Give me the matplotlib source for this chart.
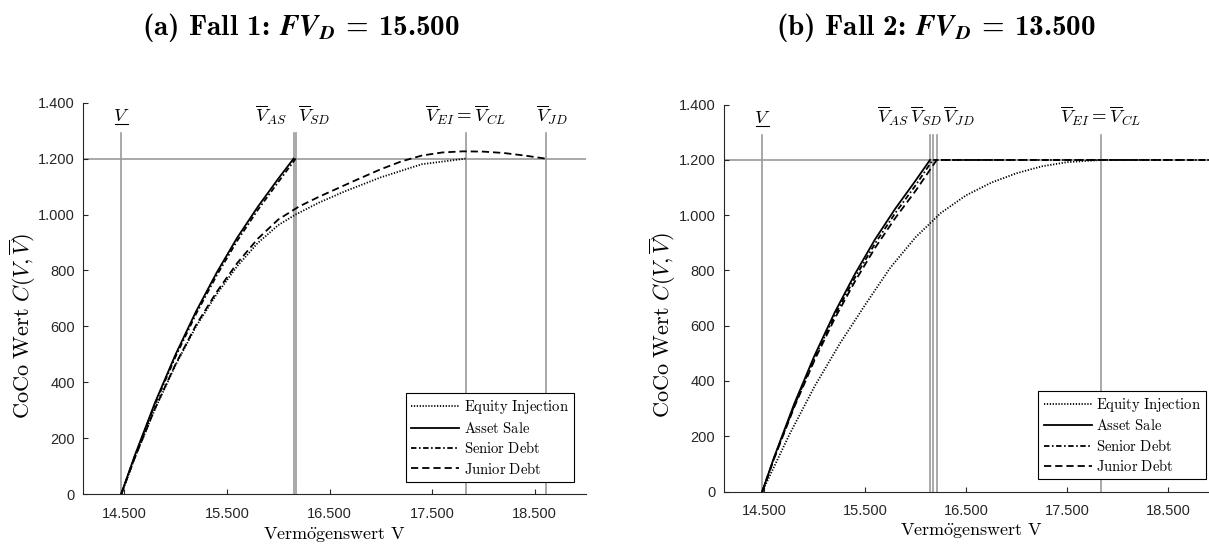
#!/usr/bin/env python3
from __future__ import annotations

import matplotlib
matplotlib.use("Agg")
import matplotlib.pyplot as plt
from matplotlib import transforms
from matplotlib.mathtext import MathTextParser


plt.rcParams["font.family"] = ["Liberation Sans", "DejaVu Sans"]
plt.rcParams["mathtext.fontset"] = "cm"

# ---- Fall 1: FV_D = 15.500 ----
V_LOW_1 = 14470
BARRIERS_1 = {"AS": 16150, "SD": 16170, "EI": 17828, "JD": 18607}

AS1_X = [14470, 14600, 14800, 15000, 15200, 15400, 15600, 15800, 16000, 16150]
AS1_Y = [0, 136, 328, 500, 654, 792, 917, 1027, 1128, 1200]
SD1_X = [14470, 14600, 14800, 15000, 15200, 15400, 15600, 15800, 16000, 16170]
SD1_Y = [0, 133, 322, 492, 645, 782, 906, 1016, 1116, 1200]
EI1_X = [14470, 14600, 14800, 15000, 15200, 15400, 15600, 15800, 16000, 16170,
         16400, 16650, 17000, 17400, 17828]
EI1_Y = [0, 128, 305, 462, 600, 715, 815, 898, 962, 1000,
         1043, 1083, 1133, 1180, 1200]
JD1_X = [14470, 14600, 14800, 15000, 15200, 15400, 15600, 15800, 16000, 16200,
         16400, 16600, 16800, 17000, 17200, 17400, 17600, 17800, 18000, 18200,
         18400, 18607]
JD1_Y = [0, 128, 307, 465, 605, 723, 826, 913, 982, 1028,
         1064, 1097, 1130, 1162, 1190, 1211, 1222, 1226, 1225, 1220,
         1211, 1200]

# ---- Fall 2: FV_D = 13.500 ----
V_LOW_2 = 14483
BARRIERS_2 = {"AS": 16143, "SD": 16170, "JD": 16210, "EI": 17836}

AS2_X = [14483, 14600, 14800, 15000, 15200, 15400, 15600, 15800, 16000, 16143]
AS2_Y = [0, 124, 318, 492, 648, 787, 913, 1024, 1125, 1200]
SD2_X = [14483, 14600, 14800, 15000, 15200, 15400, 15600, 15800, 16000, 16170, 19000]
SD2_Y = [0, 121, 311, 483, 637, 774, 898, 1008, 1108, 1200, 1200]
JD2_X = [14483, 14600, 14800, 15000, 15200, 15400, 15600, 15800, 16000, 16210, 19000]
JD2_Y = [0, 119, 306, 475, 626, 760, 882, 990, 1088, 1200, 1200]
EI2_X = [14483, 14750, 15000, 15250, 15500, 15750, 16000, 16250, 16500, 16750,
         17000, 17250, 17500, 17836]
EI2_Y = [0, 205, 380, 535, 675, 810, 920, 1008, 1072, 1118,
         1152, 1177, 1192, 1200]

FACE_VALUE = 1200
X_TICKS = [14500, 15500, 16500, 17500, 18500]
X_TICKLABELS = ["14.500", "15.500", "16.500", "17.500", "18.500"]
Y_TICKS = [0, 200, 400, 600, 800, 1000, 1200, 1400]
Y_TICKLABELS = ["0", "200", "400", "600", "800", "1.000", "1.200", "1.400"]

LEGEND = ["Equity Injection", "Asset Sale", "Senior Debt", "Junior Debt"]
STYLES = {
    "EI": (0, (0.7, 0.9)),
    "AS": "-",
    "SD": (0, (3.0, 1.4, 0.9, 1.4)),
    "JD": (0, (4.0, 2.2)),
}
GRAY = "#9a9a9a"
AXIS = "#262626"
LINE_TOP = 1290
LABEL_Y = 1333
LABEL_FS = 13.5


def pick_math(*options: str) -> str:
    parser = MathTextParser("path")
    for s in options:
        try:
            parser.parse(s)
            return s
        except Exception:
            continue
    return options[-1]


FVD = pick_math(r"$\mathbfit{FV}_{\mathbfit{D}}$", r"$\boldsymbol{FV_D}$",
                r"$\mathbf{FV_D}$")


def style_axes(ax, ylabel_x: float, xlabel_y: float) -> None:
    ax.set_xlim(14100, 19000)
    ax.set_ylim(0, 1400)
    ax.set_xticks(X_TICKS)
    ax.set_xticklabels(X_TICKLABELS)
    ax.set_yticks(Y_TICKS)
    ax.set_yticklabels(Y_TICKLABELS)
    for side in ("top", "right"):
        ax.spines[side].set_visible(False)
    for side in ("left", "bottom"):
        ax.spines[side].set_color(AXIS)
        ax.spines[side].set_linewidth(0.8)
    ax.tick_params(direction="in", length=3.5, width=0.8, color=AXIS,
                   labelcolor=AXIS, labelsize=10.5)
    ax.tick_params(axis="x", pad=9)
    ax.tick_params(axis="y", pad=6)
    ax.set_xlabel(r"$\mathrm{Verm\ddot{o}genswert\ V}$", fontsize=13)
    ax.xaxis.label.set_va("center")
    ax.xaxis.set_label_coords(0.5, xlabel_y)
    ax.set_ylabel(r"$\mathrm{CoCo\ Wert}\ C(V,\overline{V})$", fontsize=16)
    ax.yaxis.label.set_va("center")
    ax.yaxis.set_label_coords(ylabel_x, 0.43)


def barrier_lines(ax, xs: list[float]) -> None:
    for x in xs:
        ax.plot([x, x], [0, LINE_TOP], color=GRAY, lw=1.2, zorder=1)
    ax.axhline(FACE_VALUE, color=GRAY, lw=1.2, zorder=1)


def lower_label(ax, x: float) -> None:
    ax.text(x, LABEL_Y, r"$V$", ha="center", va="baseline", fontsize=LABEL_FS)
    off = transforms.ScaledTranslation(0, -2.2 / 72, ax.figure.dpi_scale_trans)
    ax.plot([x - 62, x + 62], [LABEL_Y, LABEL_Y], color="black", lw=0.8,
            transform=ax.transData + off, clip_on=False)


def curves(ax, data) -> None:
    handles = []
    for key, xs, ys in data:
        (h,) = ax.plot(xs, ys, color="black", lw=1.3, linestyle=STYLES[key],
                       zorder=3)
        handles.append(h)
    labels = [r"$\mathrm{" + t.replace(" ", r"\ ") + "}$" for t in LEGEND]
    leg = ax.legend(handles, labels, loc="lower right", fontsize=10.5,
                    handlelength=3.3, handletextpad=0.3, labelspacing=0.3,
                    borderpad=0.35, borderaxespad=0.85, fancybox=False,
                    framealpha=1)
    leg.get_frame().set_edgecolor("black")
    leg.get_frame().set_linewidth(0.8)


def title(fig, x: float, y: float, tag: str, fall: str, value: str) -> None:
    fig.text(x, y, f"({tag}) Fall {fall}: {FVD} = {value}", ha="center",
             va="center", fontsize=21, family=["cmb10", "DejaVu Serif"])


def main() -> int:
    fig = plt.figure(figsize=(12.09, 5.46), dpi=100)

    ax1 = fig.add_axes([0.0689, 0.0952, 0.4158, 0.7167])
    barrier_lines(ax1, [V_LOW_1] + list(BARRIERS_1.values()))
    curves(ax1, [("EI", EI1_X, EI1_Y), ("AS", AS1_X, AS1_Y),
                 ("SD", SD1_X, SD1_Y), ("JD", JD1_X, JD1_Y)])
    style_axes(ax1, -0.121, -0.107)
    lower_label(ax1, V_LOW_1)
    ax1.text(BARRIERS_1["AS"] - 60, LABEL_Y, r"$\overline{V}_{AS}$",
             ha="right", va="baseline", fontsize=LABEL_FS)
    ax1.text(BARRIERS_1["SD"] + 25, LABEL_Y, r"$\overline{V}_{SD}$",
             ha="left", va="baseline", fontsize=LABEL_FS)
    ax1.text(BARRIERS_1["EI"], LABEL_Y, r"$\overline{V}_{EI}=\overline{V}_{CL}$",
             ha="center", va="baseline", fontsize=LABEL_FS)
    ax1.text(BARRIERS_1["JD"] + 60, LABEL_Y, r"$\overline{V}_{JD}$",
             ha="center", va="baseline", fontsize=LABEL_FS)

    ax2 = fig.add_axes([0.5985, 0.0998, 0.4094, 0.7084])
    barrier_lines(ax2, [V_LOW_2] + list(BARRIERS_2.values()))
    curves(ax2, [("EI", EI2_X, EI2_Y), ("AS", AS2_X, AS2_Y),
                 ("SD", SD2_X, SD2_Y), ("JD", JD2_X, JD2_Y)])
    style_axes(ax2, -0.123, -0.102)
    lower_label(ax2, V_LOW_2)
    ax2.text(BARRIERS_2["AS"] - 210, LABEL_Y, r"$\overline{V}_{AS}$",
             ha="right", va="baseline", fontsize=LABEL_FS)
    ax2.text(BARRIERS_2["AS"] - 35, LABEL_Y, r"$\overline{V}_{SD}$",
             ha="center", va="baseline", fontsize=LABEL_FS)
    ax2.text(BARRIERS_2["AS"] + 130, LABEL_Y, r"$\overline{V}_{JD}$",
             ha="left", va="baseline", fontsize=LABEL_FS)
    ax2.text(BARRIERS_2["EI"], LABEL_Y, r"$\overline{V}_{EI}=\overline{V}_{CL}$",
             ha="center", va="baseline", fontsize=LABEL_FS)

    title(fig, 301 / 1209, 1 - 28 / 546, "a", "1", "15.500")
    title(fig, 936 / 1209, 1 - 28 / 546, "b", "2", "13.500")

    fig.savefig("out.png", dpi=100)
    plt.close(fig)
    return 0


if __name__ == "__main__":
    raise SystemExit(main())
